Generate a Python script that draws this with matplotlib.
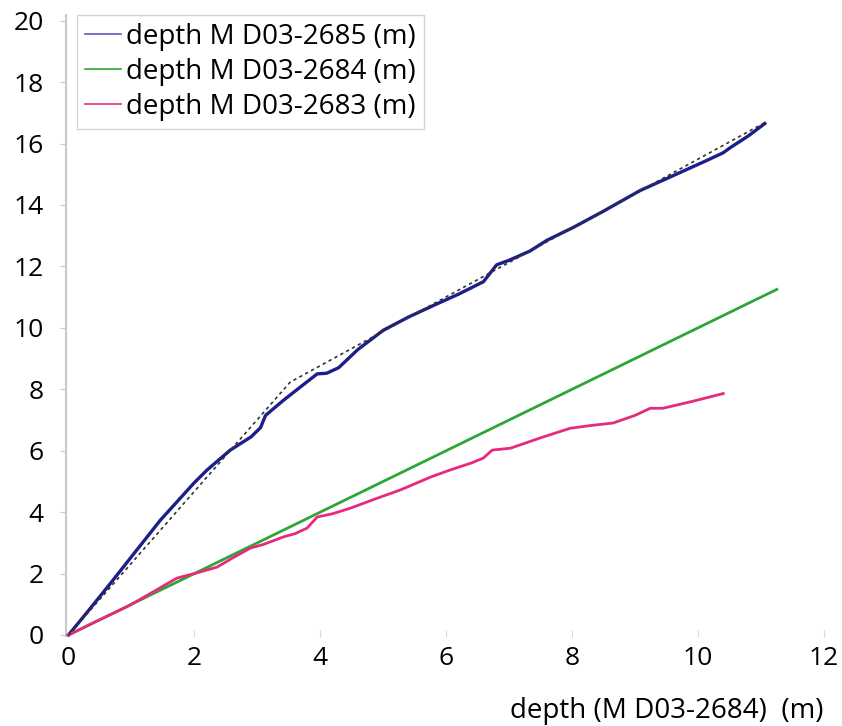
import matplotlib
matplotlib.use("Agg")
import matplotlib.pyplot as plt
from matplotlib.lines import Line2D

plt.rcParams['font.family'] = ['Open Sans', 'DejaVu Sans']

# MD03-2685 depth vs MD03-2684 depth
x_2685 = [0.0, 0.3, 0.67, 1.02, 1.46, 1.99, 2.2, 2.57, 2.9, 3.05, 3.13, 3.42, 3.7, 3.95, 4.1, 4.29,
          4.6, 5.0, 5.4, 5.8, 6.2, 6.59, 6.8, 7.0, 7.33, 7.6, 8.02, 8.5, 9.08, 9.6, 10.14, 10.4, 10.5, 10.8, 11.06]
y_2685 = [0.0, 0.75, 1.69, 2.6, 3.74, 4.94, 5.37, 6.02, 6.45, 6.75, 7.15, 7.65, 8.1, 8.5, 8.52, 8.7,
          9.3, 9.92, 10.35, 10.73, 11.1, 11.5, 12.05, 12.2, 12.5, 12.85, 13.27, 13.8, 14.47, 14.95, 15.45, 15.7, 15.85, 16.25, 16.65]

# fitted (dashed) relation
x_fit = [0.0, 3.52, 11.06]
y_fit = [0.0, 8.23, 16.68]

# MD03-2684 (identity)
x_2684 = [0.0, 11.25]
y_2684 = [0.0, 11.25]

# MD03-2683 depth vs MD03-2684 depth
x_2683 = [0.0, 0.5, 0.93, 1.3, 1.72, 2.0, 2.36, 2.6, 2.89, 3.1, 3.41, 3.6, 3.79, 3.95, 4.2, 4.48, 4.9, 5.27,
          5.75, 6.06, 6.4, 6.59, 6.73, 7.02, 7.5, 7.97, 8.3, 8.65, 9.0, 9.24, 9.44, 9.9, 10.4]
y_2683 = [0.0, 0.5, 0.92, 1.35, 1.85, 2.0, 2.21, 2.5, 2.83, 2.95, 3.19, 3.3, 3.48, 3.84, 3.95, 4.13, 4.45, 4.72,
          5.14, 5.37, 5.6, 5.76, 6.02, 6.08, 6.42, 6.73, 6.82, 6.9, 7.15, 7.38, 7.38, 7.6, 7.86]

x_ticks = [0, 2, 4, 6, 8, 10, 12]
y_ticks = [0, 2, 4, 6, 8, 10, 12, 14, 16, 18, 20]

BLUE = '#1c1f8a'
GREEN = '#2fa535'
PINK = '#e62a7e'

W, H = 842, 726
fig = plt.figure(figsize=(W / 100, H / 100), dpi=100)
xmin, xmax = -0.04, 12.0
ymin, ymax = -0.05, 20.2
ax_left, ax_right = 66, 824
ax_bottom_px, ax_top_px = 636.5, 14.5
ax = fig.add_axes([ax_left / W, 1 - ax_bottom_px / H, (ax_right - ax_left) / W, (ax_bottom_px - ax_top_px) / H])

ax.plot(x_fit, y_fit, color='#333333', lw=1.2, ls=(0, (2, 2)), zorder=4)
ax.plot(x_2685, y_2685, color=BLUE, lw=2.4, zorder=3)
ax.plot(x_2684, y_2684, color=GREEN, lw=2.0, zorder=3)
ax.plot(x_2683, y_2683, color=PINK, lw=2.0, zorder=3)

ax.set_xlim(xmin, xmax)
ax.set_ylim(ymin, ymax)
ax.set_xticks(x_ticks)
ax.set_yticks(y_ticks)
for s in ['top', 'right', 'bottom']:
    ax.spines[s].set_visible(False)
ax.spines['left'].set_color('#c8c8c8')
ax.spines['left'].set_linewidth(1.5)
ax.tick_params(axis='y', direction='out', length=4, color='#c8c8c8', labelsize=19, pad=12)
ax.tick_params(axis='x', direction='in', length=5, color='#d8d8d8', labelsize=19, pad=7)

ax.text(1.0, -0.12, 'depth (M D03-2684)  (m)', transform=ax.transAxes, ha='right', va='center', fontsize=20)

handles = [Line2D([], [], color='#5a5ab8', lw=1.2),
           Line2D([], [], color=GREEN, lw=1.2),
           Line2D([], [], color=PINK, lw=1.2)]
labels = ['depth M D03-2685 (m)', 'depth M D03-2684 (m)', 'depth M D03-2683 (m)']
leg = ax.legend(handles, labels, loc='upper left', bbox_to_anchor=((77 - ax_left) / (ax_right - ax_left), 1.0),
                fontsize=20, frameon=True, fancybox=False, handlelength=1.3, handletextpad=0.15,
                labelspacing=0.25, borderpad=0.3, borderaxespad=0.0)
leg.get_frame().set_edgecolor('#c8c8c8')
leg.get_frame().set_linewidth(1.0)

fig.savefig('out.png', dpi=100)
